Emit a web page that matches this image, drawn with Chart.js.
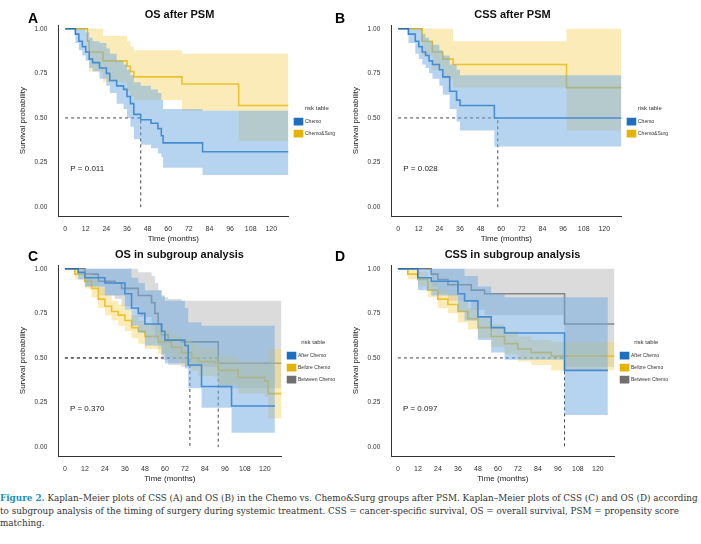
<!DOCTYPE html>
<html><head><meta charset="utf-8">
<script src="https://cdn.jsdelivr.net/npm/chart.js@4"></script>
<style>
body{margin:0;background:#fff;width:701px;height:544px;position:relative;overflow:hidden;font-family:"Liberation Sans",Arial,sans-serif}
.p{position:absolute;width:345px;height:240px}
.lt{position:absolute;font-weight:bold;font-size:14px}
#cap{position:absolute;left:0;top:492px;width:700px;font-family:"DejaVu Serif",serif;font-size:8.8px;line-height:12.5px;color:#333}
#cap b{color:#1a8fb5;font-weight:bold}
</style></head><body>
<div class="p" style="left:0px;top:4px"><canvas id="cA"></canvas></div>
<div class="p" style="left:333px;top:4px"><canvas id="cB"></canvas></div>
<div class="p" style="left:0px;top:244px"><canvas id="cC"></canvas></div>
<div class="p" style="left:333px;top:244px"><canvas id="cD"></canvas></div>
<div class="lt" style="left:28px;top:10px">A</div>
<div class="lt" style="left:335px;top:10px">B</div>
<div class="lt" style="left:28px;top:248px">C</div>
<div class="lt" style="left:335px;top:248px">D</div>
<div id="cap"><b>Figure 2.</b> Kaplan–Meier plots of CSS (A) and OS (B) in the Chemo vs. Chemo&amp;Surg groups after PSM. Kaplan–Meier plots of CSS (C) and OS (D) according to subgroup analysis of the timing of surgery during systemic treatment. CSS = cancer-specific survival, OS = overall survival, PSM = propensity score matching.</div>
<script>
const xTicks=[0,12,24,36,48,60,72,84,96,108,120];
const yTicks=[0,0.25,0.5,0.75,1];
// Panel A: OS after PSM
const A_chemo_t=[0,6,8,10,12,14,16,20,24,26,30,34,36,38,40,44,50,54,56,57,80,130];
const A_chemo_s=[1,.97,.93,.90,.87,.83,.81,.78,.75,.71,.68,.66,.62,.58,.52,.49,.47,.44,.40,.36,.31,.31];
const A_chemo_lo=[1,.92,.88,.85,.82,.78,.76,.72,.68,.64,.58,.55,.50,.45,.38,.35,.33,.30,.28,.22,.18,.18];
const A_chemo_hi=[1,1,1,1,.98,.95,.93,.92,.89,.86,.82,.80,.77,.74,.70,.68,.66,.64,.60,.55,.54,.54];
const A_surg_t=[0,13,14,22,36,38,40,68,101,130];
const A_surg_s=[1,.93,.87,.82,.79,.76,.73,.69,.57,.57];
const A_surg_lo=[1,.97,.76,.70,.65,.62,.60,.54,.37,.37];
const A_surg_hi=[1,1,1,.96,.93,.90,.88,.86,.86,.88];
// Panel B: CSS after PSM
const B_chemo_t=[0,6,10,12,14,16,18,20,24,26,30,34,36,56,130];
const B_chemo_s=[1,.97,.93,.90,.87,.85,.82,.80,.77,.73,.65,.60,.57,.50,.50];
const B_chemo_lo=[1,.92,.86,.83,.80,.78,.75,.72,.68,.63,.55,.48,.43,.34,.34];
const B_chemo_hi=[1,1,1,1,.97,.95,.93,.91,.88,.85,.80,.77,.74,.74,.74];
const B_surg_t=[0,14,20,26,32,98,130];
const B_surg_s=[1,.93,.87,.83,.80,.67,.67];
const B_surg_lo=[1,.85,.77,.72,.67,.43,.43];
const B_surg_hi=[1,1,1,1,.93,1,1];
// Panel C: OS in subgroup analysis
const C_after_t=[0,8,12,24,36,40,44,48,58,60,72,74,82,100,126];
const C_after_s=[1,.98,.95,.92,.86,.78,.75,.69,.65,.60,.57,.46,.34,.23,.23];
const C_after_lo=[1,.94,.90,.85,.77,.68,.64,.57,.52,.47,.44,.33,.22,.08,.08];
const C_after_hi=[1,1,1,1,1,.95,.92,.88,.85,.82,.78,.70,.68,.68,.68];
const C_before_t=[0,6,12,16,20,24,28,32,36,40,44,48,56,64,70,76,80,90,92,104,120,122,130];
const C_before_s=[1,.97,.93,.89,.83,.79,.76,.74,.71,.67,.65,.62,.59,.56,.53,.50,.48,.47,.43,.39,.37,.30,.30];
const C_before_lo=[1,.94,.89,.84,.78,.74,.71,.68,.65,.61,.58,.55,.52,.49,.46,.43,.40,.39,.35,.30,.28,.16,.16];
const C_before_hi=[1,1,.97,.94,.89,.85,.82,.80,.77,.74,.71,.69,.66,.63,.61,.58,.56,.55,.51,.48,.47,.55,.55];
const C_betw_t=[0,12,20,30,34,44,52,54,56,58,62,70,92,130];
const C_betw_s=[1,.97,.93,.92,.89,.85,.81,.75,.69,.63,.60,.59,.47,.47];
const C_betw_lo=[1,.90,.85,.83,.79,.73,.68,.61,.55,.49,.46,.45,.33,.33];
const C_betw_hi=[1,1,1,1,1,.98,.96,.92,.88,.84,.83,.82,.82,.82];
// Panel D: CSS in subgroup analysis
const D_after_t=[0,12,20,36,40,48,56,64,100,126];
const D_after_s=[1,.95,.93,.86,.82,.73,.67,.64,.43,.43];
const D_after_lo=[1,.88,.85,.76,.71,.60,.53,.49,.18,.18];
const D_after_hi=[1,1,1,1,.96,.90,.86,.84,.84,.84];
const D_before_t=[0,6,12,18,24,30,36,42,48,56,64,72,80,92,130];
const D_before_s=[1,.97,.94,.88,.83,.80,.76,.72,.67,.62,.58,.55,.53,.51,.51];
const D_before_lo=[1,.94,.90,.84,.78,.75,.70,.66,.61,.56,.52,.48,.46,.43,.43];
const D_before_hi=[1,1,.98,.93,.88,.86,.82,.78,.73,.69,.65,.62,.60,.59,.59];
const D_betw_t=[0,20,24,30,44,52,100,130];
const D_betw_s=[1,.97,.94,.91,.88,.86,.69,.69];
const D_betw_lo=[1,.90,.86,.82,.77,.74,.45,.45];
const D_betw_hi=[1,1,1,1,1,1,1,1];
const medA=[44],medB=[58],medC=[75,92],medD=[100];

const COL={blue:['#1f6fc0','rgba(110,170,225,0.5)'],yel:['#e6b400','rgba(245,210,100,0.45)'],gry:['#6f6f6f','rgba(170,170,170,0.42)']};
function pts(t,v){return t.map((x,i)=>({x,y:v[i]}));}
function grp(name,c,t,s,lo,hi){
  return [
    {label:name+'lo',data:pts(t,lo),stepped:true,borderWidth:0,pointRadius:0,fill:false,hide:true},
    {label:name+'hi',data:pts(t,hi),stepped:true,borderWidth:0,pointRadius:0,fill:'-1',backgroundColor:c[1],hide:true},
    {label:name,data:pts(t,s),stepped:true,borderColor:c[0],backgroundColor:c[0],borderWidth:1.6,pointRadius:0,fill:false}
  ];
}
function med(m){return m.map(x=>({label:'m',data:[{x:0,y:.5},{x:x,y:.5},{x:x,y:0}],borderColor:'#444',borderWidth:1,borderDash:[3,3],pointRadius:0,fill:false,hide:true}));}
const pPlug={id:'pv',afterDraw(ch,a,o){const {ctx,scales:{x,y}}=ch;ctx.save();ctx.font='8px Liberation Sans';ctx.fillStyle='#222';ctx.fillText(o.t,x.getPixelForValue(3),y.getPixelForValue(.2));ctx.restore();}};
function mk(id,title,groups,m,p){
  const ds=[];groups.forEach(g=>ds.push(...grp(...g)));ds.push(...med(m));
  new Chart(document.getElementById(id),{type:'line',data:{datasets:ds},plugins:[pPlug],
  options:{animation:false,responsive:true,maintainAspectRatio:false,
   layout:{padding:{left:14,top:0,right:0,bottom:0}},
   plugins:{pv:{t:'P = '+p},title:{display:true,text:title,font:{size:11,weight:'bold',family:'Liberation Sans'},color:'#111',padding:{top:4,bottom:4}},
    legend:{position:'right',align:'center',title:{display:true,text:'risk table',font:{size:6},color:'#333'},
     labels:{boxWidth:8,boxHeight:6,padding:6,font:{size:5},color:'#333',filter:(l,d)=>!d.datasets[l.datasetIndex].hide}},tooltip:{enabled:false}},
   scales:{x:{type:'linear',min:-4,max:130,grid:{display:false},border:{color:'#333'},afterBuildTicks:s=>{s.ticks=xTicks.map(v=>({value:v}));},ticks:{font:{size:7},color:'#333',padding:1},title:{display:true,text:'Time (months)',font:{size:8},color:'#222',padding:0}},
    y:{min:-0.05,max:1.02,grid:{display:false},border:{color:'#333'},afterBuildTicks:s=>{s.ticks=yTicks.map(v=>({value:v}));},ticks:{font:{size:6.5},color:'#333',callback:v=>v.toFixed(2)},title:{display:true,text:'Survival probability',font:{size:8},color:'#222'}}}}});
}
mk('cA','OS after PSM',[['Chemo',COL.blue,A_chemo_t,A_chemo_s,A_chemo_lo,A_chemo_hi],['Chemo&Surg',COL.yel,A_surg_t,A_surg_s,A_surg_lo,A_surg_hi]],medA,'0.011');
mk('cB','CSS after PSM',[['Chemo',COL.blue,B_chemo_t,B_chemo_s,B_chemo_lo,B_chemo_hi],['Chemo&Surg',COL.yel,B_surg_t,B_surg_s,B_surg_lo,B_surg_hi]],medB,'0.028');
mk('cC','OS in subgroup analysis',[['After Chemo',COL.blue,C_after_t,C_after_s,C_after_lo,C_after_hi],['Before Chemo',COL.yel,C_before_t,C_before_s,C_before_lo,C_before_hi],['Between Chemo',COL.gry,C_betw_t,C_betw_s,C_betw_lo,C_betw_hi]],medC,'0.370');
mk('cD','CSS in subgroup analysis',[['After Chemo',COL.blue,D_after_t,D_after_s,D_after_lo,D_after_hi],['Before Chemo',COL.yel,D_before_t,D_before_s,D_before_lo,D_before_hi],['Between Chemo',COL.gry,D_betw_t,D_betw_s,D_betw_lo,D_betw_hi]],medD,'0.097');
</script></body></html>
